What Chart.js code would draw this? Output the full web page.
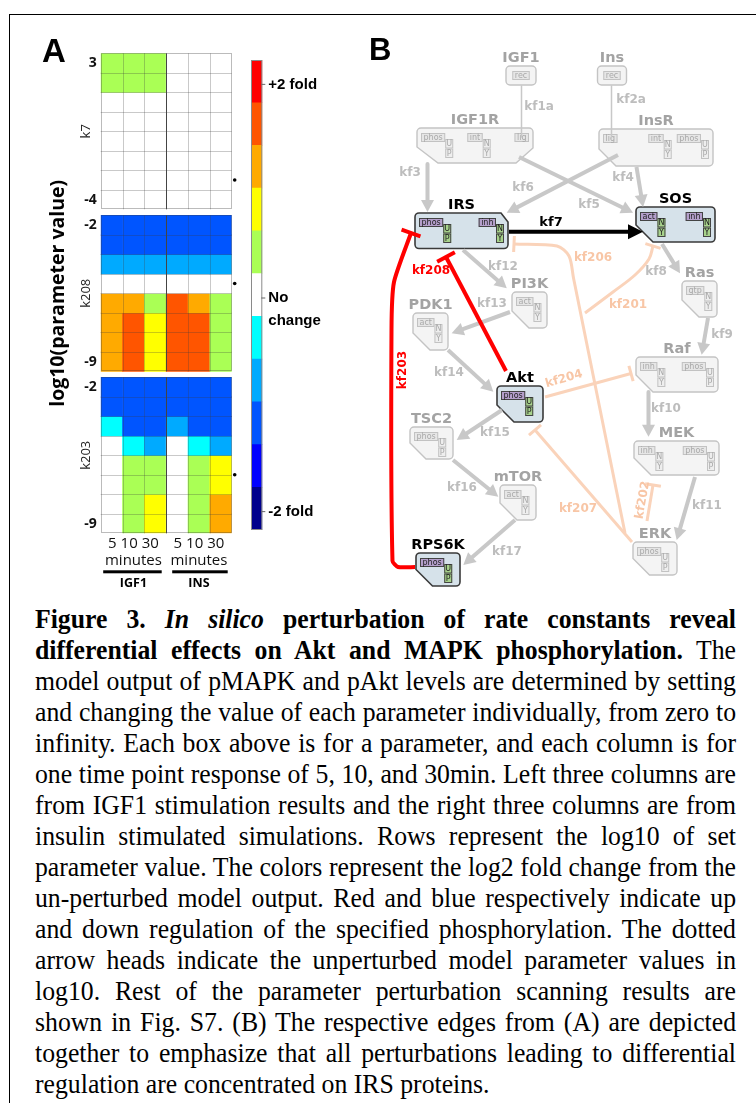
<!DOCTYPE html>
<html>
<head>
<meta charset="utf-8">
<script src="https://cdn.jsdelivr.net/npm/chart.js@4.4.1/dist/chart.umd.min.js"></script>
<style>
    html, body { margin: 0; padding: 0; background: #fff; }
    body { width: 756px; height: 1103px; position: relative; overflow: hidden; }
    #frame { position: absolute; left: 9px; top: 14px; width: 800px; height: 1200px;
             border-top: 1.5px solid #000; border-left: 1.5px solid #000; }
    canvas { position: absolute; }
    #heat { left: 0; top: 0; }
    #cbar { left: 240px; top: 40px; }
    #net { left: 355px; top: 25px; }
    #caption { position: absolute; left: 35px; top: 603px; transform-origin: 0 0;
               font-family: "Liberation Serif", "Times New Roman", serif; font-size: 28px; color: #000; }
    .ln { height: 31px; line-height: 31px; text-align: justify; text-align-last: justify; }
    .ln.last { text-align-last: left; }
</style>
</head>
<body>
<div id="frame"></div>
<canvas id="heat" width="250" height="600"></canvas>
<canvas id="cbar" width="110" height="510"></canvas>
<canvas id="net" width="390" height="570"></canvas>
<div id="caption"></div>
<script>
// ---- panel A data ----
const colLabels = ["5", "10", "30", "5", "10", "30"];
const groupLabels = ["IGF1", "INS"];
const paramNames = ["k7", "k208", "k203"];
const paramTop = [3, -2, -2];
const paramBottom = [-4, -9, -9];
const unperturbedLog10 = [-3, -5, -6.5];

// colour level per cell, -5 (dark blue) .. +5 (red), rows top to bottom
const k7Levels = [
    [1, 1, 1, 0, 0, 0],
    [1, 1, 1, 0, 0, 0],
    [0, 0, 0, 0, 0, 0],
    [0, 0, 0, 0, 0, 0],
    [0, 0, 0, 0, 0, 0],
    [0, 0, 0, 0, 0, 0],
    [0, 0, 0, 0, 0, 0],
    [0, 0, 0, 0, 0, 0],
];
const k208Levels = [
    [-3, -3, -3, -3, -3, -3],
    [-3, -3, -3, -3, -3, -3],
    [-2, -2, -2, -2, -2, -2],
    [0, 0, 0, 0, 0, 0],
    [3, 3, 1, 4, 3, 1],
    [3, 4, 2, 4, 4, 1],
    [3, 4, 2, 4, 4, 1],
    [3, 4, 2, 4, 4, 1],
];
const k203Levels = [
    [-3, -3, -3, -3, -3, -3],
    [-3, -3, -3, -3, -3, -3],
    [-1, -3, -3, -2, -3, -3],
    [0, -1, -2, 0, -1, -2],
    [0, 1, 1, 0, 1, 2],
    [0, 1, 1, 0, 1, 2],
    [0, 1, 2, 0, 1, 3],
    [0, 1, 2, 0, 1, 3],
];
const levelColors = ["#00008c", "#0000ff", "#0055ff", "#00aaff", "#00ffff", "#ffffff",
                     "#aaff55", "#ffff00", "#ffaa00", "#ff5500", "#ff0000"];
const colorbarTickLevels = [5, 0, -5];
const colorbarTickLabels = [["+2 fold"], ["No", "change"], ["-2 fold"]];

// ---- panel B data (diagram coordinates) ----
const nodeNames = ["IGF1", "Ins", "IGF1R", "InsR", "IRS", "SOS", "Ras", "PI3K", "PDK1",
                   "Akt", "Raf", "TSC2", "MEK", "mTOR", "ERK", "RPS6K"];
const nodeActive = [0, 0, 0, 0, 1, 1, 0, 0, 0, 1, 0, 0, 0, 0, 0, 1];
const nodeSites = [
    [["rec"]], [["rec"]],
    [["phos", "UP"], ["int", "NY"], ["lig"]],
    [["lig"], ["int", "NY"], ["phos", "UP"]],
    [["phos", "UP"], ["inh", "NY"]],
    [["act", "NY"], ["inh", "NY"]],
    [["gtp", "NY"]], [["act", "NY"]], [["act", "NY"]], [["phos", "UP"]],
    [["inh", "NY"], ["phos", "UP"]], [["phos", "UP"]],
    [["inh", "NY"], ["phos", "UP"]], [["act", "NY"]], [["phos", "UP"]], [["phos", "UP"]],
];
// box: left, top, width, height, corner cut
const nodeBoxes = [
    [506, 66, 30, 19, "none"], [597.5, 66, 29, 19, "none"],
    [417, 128, 116, 35, "b2"], [599, 129, 114, 37, "bl"],
    [415, 213, 93, 35.5, "tr"], [636, 207, 79, 35, "bl"],
    [682, 281, 35, 36, "bl"], [512, 292, 35, 36, "bl"], [413, 313, 35, 37, "bl"],
    [497, 386, 46, 36, "bl"], [636, 357, 82, 35, "bl"], [410, 427, 43, 32, "bl"],
    [634, 441, 85, 34, "bl"], [500, 485, 36, 35, "bl"], [633, 542, 44, 33, "bl"],
    [416, 553, 44, 33, "bl"],
];

const edgeNames = ["kf1a", "kf2a", "kf3", "kf4", "kf5", "kf6", "kf7", "kf8", "kf9", "kf10",
                   "kf11", "kf12", "kf13", "kf14", "kf15", "kf16", "kf17", "kf201", "kf202",
                   "kf203", "kf204", "kf206", "kf207", "kf208"];
const edgeKinds = ["thin", "thin", "gray", "gray", "gray", "gray", "black", "gray", "gray", "gray",
                   "gray", "gray", "gray", "gray", "gray", "gray", "gray", "peach", "peach",
                   "red", "peach", "peach", "peach", "red"];
const edgeHeads = ["none", "none", "arrow", "arrow", "arrow", "arrow", "arrow", "arrow", "arrow",
                   "arrow", "arrow", "arrow", "arrow", "arrow", "arrow", "arrow", "arrow", "bar",
                   "bar", "bar", "bar", "bar", "bar", "bar"];
const edgePaths = [
    [[521.5, 86], [521.5, 137]],
    [[611.5, 86], [611.5, 138]],
    [[427.5, 164], [427.5, 203]],
    [[636.5, 167], [641.6, 198]],
    [[519, 157], [625, 208.7]],
    [[618, 155], [514.7, 208.6]],
    [[509, 231.7], [630, 231.7]],
    [[662, 244], [675.3, 265.6]],
    [[708, 318], [703.2, 346]],
    [[648.5, 392], [648.5, 427.7]],
    [[695, 477], [679.2, 531.4]],
    [[463, 250], [500, 282.4]],
    [[510, 312], [460.1, 330.2]],
    [[448, 350], [486.7, 385.6]],
    [[502, 410], [464.2, 435]],
    [[453, 460], [491.3, 491]],
    [[515, 520], [470.1, 559.1]],
    [[585, 313], [613, 292], [635, 275], [649, 259], [653, 246]],
    [[647, 521], [653, 485]],
    [[415, 567], [398, 567], [392.5, 561], [391.5, 330], [394, 282], [411, 233]],
    [[545, 397], [631, 373.5]],
    [[625, 533], [573.5, 278], [569, 256], [557, 246], [514, 244]],
    [[632, 542], [535, 430]],
    [[506, 371], [446, 257]],
];
const edgeTension = [0, 0, 0, 0, 0, 0, 0, 0, 0, 0, 0, 0, 0, 0, 0, 0, 0, 0.35, 0,
                     0.2, 0, 0.3, 0, 0];
const edgeLabelPos = [
    [539, 107, 0], [631, 100, 0], [410, 173, 0], [623, 178, 0], [589, 205, 0], [523, 188, 0],
    [551, 223, 0], [656, 272, 0], [722, 335, 0], [666, 409, 0], [707, 506, 0], [503, 267, 0],
    [492, 304, 0], [449, 373, 0], [495, 433, 0], [462, 488, 0], [507, 552, 0], [628, 305, 0],
    [642.7, 500, -80], [402.7, 370, -90], [564, 379, -16], [593, 258, 0], [578, 509, 0], [431, 271, 0],
];

Chart.defaults.animation = false;
Chart.defaults.font.family = "Open Sans";

// ---- heatmap ----
const GAP = 6 / 19.5;
const blocks = [k7Levels, k208Levels, k203Levels];
const heatDatasets = [];
blocks.forEach((levels, b) => {
    const base = b * (8 + GAP);
    levels.forEach((row, r) => {
        heatDatasets.push({
            data: row.map(() => [base + r, base + r + 1]),
            backgroundColor: row.map((v) => levelColors[v + 5]),
            borderWidth: 0,
            grouped: false,
            barPercentage: 1,
            categoryPercentage: 1,
        });
    });
});

const heatPlugin = {
    id: "heatLabels",
    afterDatasetsDraw(chart) {
        const { ctx, chartArea: a, scales: { x, y } } = chart;
        const colW = (a.right - a.left) / colLabels.length;
        const colEdge = (c) => a.left + c * colW;
        ctx.save();
        blocks.forEach((levels, b) => {
            const base = b * (8 + GAP);
            const top = y.getPixelForValue(base);
            const bot = y.getPixelForValue(base + 8);
            ctx.lineWidth = 1;
            ctx.strokeStyle = "rgba(60,60,60,0.28)";
            ctx.beginPath();
            for (let r = 1; r < 8; r++) {
                const py = Math.round(y.getPixelForValue(base + r)) + 0.5;
                ctx.moveTo(a.left, py); ctx.lineTo(a.right, py);
            }
            for (let c = 1; c < colLabels.length; c++) {
                if (c === 3) continue;
                const px = Math.round(colEdge(c)) + 0.5;
                ctx.moveTo(px, top); ctx.lineTo(px, bot);
            }
            ctx.stroke();
            ctx.strokeStyle = "rgba(60,60,60,0.35)";
            ctx.strokeRect(Math.round(a.left) + 0.5, Math.round(top) + 0.5,
                           Math.round(a.right - a.left) - 1, Math.round(bot - top) - 1);
            ctx.strokeStyle = "#444";
            ctx.beginPath();
            const mx = Math.round(colEdge(3)) + 0.5;
            ctx.moveTo(mx, top); ctx.lineTo(mx, bot);
            ctx.stroke();

            // row range labels
            ctx.fillStyle = "#111";
            ctx.font = "bold 14px 'Open Sans'";
            ctx.textAlign = "right";
            ctx.textBaseline = "middle";
            ctx.fillText(String(paramTop[b]), a.left - 4, y.getPixelForValue(base + 0.5));
            ctx.fillText(String(paramBottom[b]), a.left - 4, y.getPixelForValue(base + 7.5));
            // parameter name
            ctx.save();
            ctx.translate(86, (top + bot) / 2);
            ctx.rotate(-Math.PI / 2);
            ctx.textAlign = "center";
            ctx.font = "13px 'Open Sans'";
            ctx.fillStyle = "#222";
            ctx.fillText(paramNames[b], 0, 0);
            ctx.restore();
            // unperturbed marker
            const dy = y.getPixelForValue(base + (paramTop[b] - unperturbedLog10[b]) + 0.5);
            ctx.fillStyle = "#000";
            ctx.beginPath();
            ctx.arc(a.right + 3, dy, 1.8, 0, Math.PI * 2);
            ctx.fill();
        });

        // axis title
        ctx.save();
        ctx.translate(58, (a.top + a.bottom) / 2);
        ctx.rotate(-Math.PI / 2);
        ctx.textAlign = "center";
        ctx.textBaseline = "middle";
        ctx.font = "bold 19.5px 'Open Sans'";
        ctx.fillStyle = "#000";
        ctx.fillText("log10(parameter value)", 0, 0);
        ctx.restore();

        // column labels
        groupLabels.forEach((g, gi) => {
            const l = colEdge(gi * 3), r = colEdge(gi * 3 + 3);
            const cx = (l + r) / 2;
            ctx.fillStyle = "#111";
            ctx.textAlign = "center";
            ctx.textBaseline = "middle";
            ctx.font = "15px 'Open Sans'";
            ctx.fillText(colLabels.slice(gi * 3, gi * 3 + 3).join(" "), cx, a.bottom + 10);
            ctx.fillText("minutes", cx, a.bottom + 27);
            ctx.fillStyle = "#000";
            ctx.fillRect(l + (gi ? 6 : 2.5), a.bottom + 37, (r - l) - (gi ? 10 : 7), 3);
            ctx.font = "bold 12.5px 'Open Sans'";
            ctx.fillText(g, cx, a.bottom + 50);
        });

        ctx.font = "bold 33px 'Liberation Sans'";
        ctx.textAlign = "left";
        ctx.textBaseline = "alphabetic";
        ctx.fillStyle = "#000";
        ctx.fillText("A", 42, 61.5);
        ctx.restore();
    },
};

new Chart(document.getElementById("heat"), {
    type: "bar",
    data: { labels: colLabels, datasets: heatDatasets },
    options: {
        responsive: false,
        animation: false,
        layout: { padding: { left: 100.7, right: 18.3, top: 53.3, bottom: 66.7 } },
        plugins: { legend: { display: false }, tooltip: { enabled: false } },
        scales: {
            x: { display: false, offset: true },
            y: { display: false, min: 0, max: 24 + 2 * GAP, reverse: true },
        },
    },
    plugins: [heatPlugin],
});

// ---- colour bar ----
const cbarPlugin = {
    id: "cbarLabels",
    afterDatasetsDraw(chart) {
        const { ctx, chartArea: a, scales: { y } } = chart;
        ctx.save();
        ctx.strokeStyle = "#8a8a8a";
        ctx.lineWidth = 1;
        ctx.strokeRect(a.left + 0.5, a.top + 0.5, a.right - a.left - 1, a.bottom - a.top - 1);
        colorbarTickLevels.forEach((lv, i) => {
            const py = y.getPixelForValue(lv + 5.5) + 3;
            ctx.strokeStyle = "#666";
            ctx.beginPath();
            ctx.moveTo(a.right - 1, py); ctx.lineTo(a.right + 3, py);
            ctx.stroke();
            ctx.fillStyle = "#000";
            ctx.font = "bold 15px 'Liberation Sans'";
            ctx.textAlign = "left";
            ctx.textBaseline = "middle";
            colorbarTickLabels[i].forEach((t, k) => ctx.fillText(t, a.right + 6, py + k * 23));
        });
        ctx.restore();
    },
};

new Chart(document.getElementById("cbar"), {
    type: "bar",
    data: {
        labels: [""],
        datasets: levelColors.map((c) => ({
            data: [1], backgroundColor: c, barPercentage: 1, categoryPercentage: 1,
        })),
    },
    options: {
        responsive: false,
        animation: false,
        layout: { padding: { left: 11, right: 87.7, top: 20, bottom: 20 } },
        plugins: { legend: { display: false }, tooltip: { enabled: false } },
        scales: {
            x: { display: false, stacked: true },
            y: { display: false, stacked: true, min: 0, max: levelColors.length },
        },
    },
    plugins: [cbarPlugin],
});

// ---- network diagram ----
const edgeColors = { thin: "#c8c8c8", gray: "#c8c8c8", black: "#000", red: "#ff0000", peach: "#fad3ba" };
const edgeWidths = { thin: 1.5, gray: 4, black: 4, red: 4, peach: 3 };
const labelColors = { thin: "#bdbdbd", gray: "#bdbdbd", black: "#000", red: "#ff0000", peach: "#f8c6a6" };
const edgeOrder = { thin: 2, gray: 2, black: 0, red: 0, peach: 3 };

const netDatasets = edgePaths.map((pts, i) => ({
    data: pts.map((p) => ({ x: p[0], y: p[1] })),
    showLine: true,
    borderColor: edgeColors[edgeKinds[i]],
    borderWidth: edgeWidths[edgeKinds[i]],
    borderCapStyle: "butt",
    borderJoinStyle: "round",
    pointRadius: 0,
    tension: edgeTension[i],
    order: edgeOrder[edgeKinds[i]],
}));

function nodePath(ctx, x, y, w, h, cut) {
    const r = 4;
    ctx.beginPath();
    if (cut === "tr") {
        ctx.moveTo(x + r, y);
        ctx.lineTo(x + w - 7, y);
        ctx.lineTo(x + w, y + 9);
        ctx.arcTo(x + w, y + h, x, y + h, r);
        ctx.arcTo(x, y + h, x, y, r);
        ctx.arcTo(x, y, x + w, y, r);
    } else if (cut === "bl") {
        const c = Math.min(17, h * 0.5);
        ctx.moveTo(x + r, y);
        ctx.arcTo(x + w, y, x + w, y + h, r);
        ctx.arcTo(x + w, y + h, x, y + h, r);
        ctx.lineTo(x + c, y + h);
        ctx.lineTo(x, y + h - c);
        ctx.arcTo(x, y, x + w, y, r);
    } else if (cut === "b2") {
        ctx.moveTo(x + r, y);
        ctx.arcTo(x + w, y, x + w, y + h, r);
        ctx.lineTo(x + w, y + h - 15);
        ctx.lineTo(x + w - 17, y + h);
        ctx.lineTo(x + 21, y + h);
        ctx.lineTo(x, y + h - 16);
        ctx.arcTo(x, y, x + w, y, r);
    } else {
        ctx.moveTo(x + r, y);
        ctx.arcTo(x + w, y, x + w, y + h, r);
        ctx.arcTo(x + w, y + h, x, y + h, r);
        ctx.arcTo(x, y + h, x, y, r);
        ctx.arcTo(x, y, x + w, y, r);
    }
    ctx.closePath();
}

function drawSite(ctx, sx, sy, site, active) {
    ctx.font = "8px 'DejaVu Sans'";
    const tw = ctx.measureText(site[0]).width + 5;
    ctx.lineWidth = 1;
    ctx.fillStyle = active ? "#b49fcb" : "#e6e6e6";
    ctx.strokeStyle = active ? "#444" : "#c2c2c2";
    ctx.fillRect(sx, sy, tw, 9);
    ctx.strokeRect(sx + 0.5, sy + 0.5, tw - 1, 8);
    ctx.fillStyle = active ? "#222" : "#a9a9a9";
    ctx.textAlign = "center";
    ctx.textBaseline = "middle";
    ctx.fillText(site[0], sx + tw / 2, sy + 5);
    if (site[1]) {
        for (let k = 0; k < 2; k++) {
            const qy = sy + 6 + k * 9.5;
            ctx.fillStyle = active ? "#a7d28b" : "#eeeeee";
            ctx.strokeStyle = active ? "#444" : "#c2c2c2";
            ctx.fillRect(sx + tw, qy, 8, 9.5);
            ctx.strokeRect(sx + tw + 0.5, qy + 0.5, 7, 8.5);
            ctx.fillStyle = active ? "#222" : "#a9a9a9";
            ctx.fillText(site[1][k], sx + tw + 4, qy + 5);
        }
    }
    return tw + (site[1] ? 8 : 0);
}

function siteWidth(ctx, site) {
    ctx.font = "8px 'DejaVu Sans'";
    return ctx.measureText(site[0]).width + 5 + (site[1] ? 8 : 0);
}

const netPlugin = {
    id: "network",
    beforeDatasetsDraw(chart) {
        const { ctx, scales: { x, y } } = chart;
        ctx.save();
        nodeNames.forEach((name, i) => {
            const [bx, by, bw, bh, cut] = nodeBoxes[i];
            const px = x.getPixelForValue(bx), py = y.getPixelForValue(by);
            const pw = x.getPixelForValue(bx + bw) - px, ph = y.getPixelForValue(by + bh) - py;
            const act = nodeActive[i] === 1;
            nodePath(ctx, px, py, pw, ph, cut);
            ctx.fillStyle = act ? "#d6e2ea" : "#f4f4f4";
            ctx.fill();
            ctx.lineWidth = act ? 1.6 : 1.4;
            ctx.strokeStyle = act ? "#3a3a3a" : "#c4c4c4";
            ctx.stroke();

            const sites = nodeSites[i];
            const widths = sites.map((s) => siteWidth(ctx, s));
            const positions = sites.map((s, k) => {
                if (sites.length === 1) return s[0] === "rec" ? px + (pw - widths[k]) / 2 : px + 4;
                if (k === 0) return px + 4;
                if (k === sites.length - 1) return px + pw - widths[k] - 4;
                return px + (pw - widths[k]) / 2 + 4;
            });
            sites.forEach((s, k) => drawSite(ctx, positions[k], py + 5, s, act));

            ctx.fillStyle = act ? "#000" : "#a3a3a3";
            ctx.font = "bold 14.5px 'DejaVu Sans'";
            ctx.textAlign = "center";
            ctx.textBaseline = "middle";
            ctx.fillText(name, px + pw / 2, py - 8);
        });
        ctx.restore();
    },
    afterDatasetsDraw(chart) {
        const { ctx, scales: { x, y } } = chart;
        ctx.save();
        edgePaths.forEach((pts, i) => {
            const kind = edgeKinds[i];
            const n = pts.length;
            const x1 = x.getPixelForValue(pts[n - 2][0]), y1 = y.getPixelForValue(pts[n - 2][1]);
            const x2 = x.getPixelForValue(pts[n - 1][0]), y2 = y.getPixelForValue(pts[n - 1][1]);
            const ang = Math.atan2(y2 - y1, x2 - x1);
            const ux = Math.cos(ang), uy = Math.sin(ang);
            ctx.fillStyle = edgeColors[kind];
            ctx.strokeStyle = edgeColors[kind];
            if (edgeHeads[i] === "arrow") {
                const big = kind === "black";
                const len = big ? 15 : 12, half = big ? 7.5 : 6.5, ext = big ? 13 : 9;
                const tx = x2 + ux * ext, ty = y2 + uy * ext;
                const bxp = tx - ux * len, byp = ty - uy * len;
                ctx.beginPath();
                ctx.moveTo(tx, ty);
                ctx.lineTo(bxp - uy * half, byp + ux * half);
                ctx.lineTo(bxp + uy * half, byp - ux * half);
                ctx.closePath();
                ctx.fill();
            } else if (edgeHeads[i] === "bar") {
                const half = kind === "red" ? 10 : 8;
                ctx.lineWidth = edgeWidths[kind];
                ctx.lineCap = "butt";
                ctx.beginPath();
                ctx.moveTo(x2 - uy * half, y2 + ux * half);
                ctx.lineTo(x2 + uy * half, y2 - ux * half);
                ctx.stroke();
            }
            // label
            const [lx, ly, rot] = edgeLabelPos[i];
            ctx.save();
            ctx.translate(x.getPixelForValue(lx), y.getPixelForValue(ly));
            ctx.rotate(rot * Math.PI / 180);
            ctx.fillStyle = labelColors[kind];
            ctx.font = kind === "black" ? "bold 13px 'DejaVu Sans'" : "bold 12px 'DejaVu Sans'";
            ctx.textAlign = "center";
            ctx.textBaseline = "middle";
            ctx.fillText(edgeNames[i], 0, 0);
            ctx.restore();
        });
        ctx.font = "bold 31px 'Liberation Sans'";
        ctx.fillStyle = "#000";
        ctx.textAlign = "left";
        ctx.textBaseline = "alphabetic";
        ctx.fillText("B", x.getPixelForValue(369), y.getPixelForValue(60));
        ctx.restore();
    },
};

new Chart(document.getElementById("net"), {
    type: "scatter",
    data: { datasets: netDatasets },
    options: {
        responsive: false,
        animation: false,
        layout: { padding: 0 },
        plugins: { legend: { display: false }, tooltip: { enabled: false } },
        scales: {
            x: { type: "linear", display: false, min: 355, max: 745 },
            y: { type: "linear", display: false, min: 25, max: 595, reverse: true },
        },
    },
    plugins: [netPlugin],
});

// ---- caption ----
const captionLines = [
    "<b>Figure 3. <i>In silico</i> perturbation of rate constants reveal</b>",
    "<b>differential effects on Akt and MAPK phosphorylation.</b> The",
    "model output of pMAPK and pAkt levels are determined by setting",
    "and changing the value of each parameter individually, from zero to",
    "infinity. Each box above is for a parameter, and each column is for",
    "one time point response of 5, 10, and 30min. Left three columns are",
    "from IGF1 stimulation results and the right three columns are from",
    "insulin stimulated simulations. Rows represent the log10 of set",
    "parameter value. The colors represent the log2 fold change from the",
    "un-perturbed model output. Red and blue respectively indicate up",
    "and down regulation of the specified phosphorylation. The dotted",
    "arrow heads indicate the unperturbed model parameter values in",
    "log10. Rest of the parameter perturbation scanning results are",
    "shown in Fig. S7. (B) The respective edges from (A) are depicted",
    "together to emphasize that all perturbations leading to differential",
    "regulation are concentrated on IRS proteins.",
];
const cap = document.getElementById("caption");
const meas = document.createElement("span");
meas.style.cssText = "position:absolute;visibility:hidden;white-space:nowrap;font-family:'Liberation Serif';font-size:28px;";
document.body.appendChild(meas);
let maxW = 0;
captionLines.forEach((h, i) => {
    meas.innerHTML = h;
    maxW = Math.max(maxW, meas.getBoundingClientRect().width);
    const d = document.createElement("div");
    d.className = i === captionLines.length - 1 ? "ln last" : "ln";
    d.innerHTML = h;
    cap.appendChild(d);
});
meas.remove();
const capW = maxW + 2;
cap.style.width = capW + "px";
cap.style.transform = "scaleX(" + (701 / capW) + ")";
</script>
</body>
</html>
